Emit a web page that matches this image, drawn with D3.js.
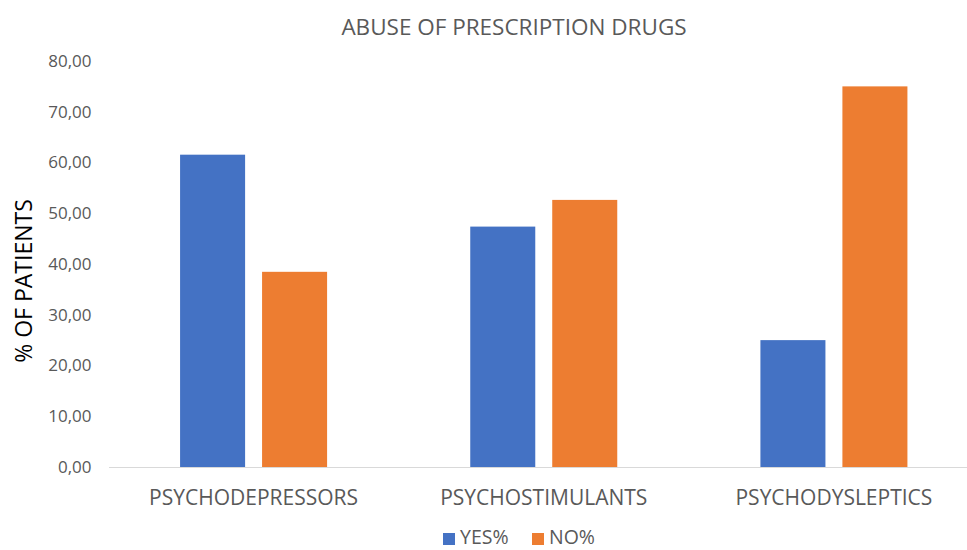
<!DOCTYPE html>
<html>
<head>
<meta charset="utf-8">
<script src="https://cdn.jsdelivr.net/npm/d3@7"></script>
<style>
  html, body { margin: 0; padding: 0; background: #fff; }
  svg { display: block; font-family: "Open Sans", "Liberation Sans", sans-serif; }
</style>
</head>
<body>
<svg id="chart" width="967" height="550"></svg>
<script>
// Drug categories and the share of patients (%) answering yes / no
const categories = ["PSYCHODEPRESSORS", "PSYCHOSTIMULANTS", "PSYCHODYSLEPTICS"];
const seriesNames = ["YES%", "NO%"];
const yesValues = [61.54, 47.37, 25.00];
const noValues = [38.46, 52.63, 75.00];
const yTicks = [0, 10, 20, 30, 40, 50, 60, 70, 80];
const colors = ["#4472C4", "#ED7D31"];

const svg = d3.select("#chart");
const width = 967, height = 550;
const margin = { left: 108.5, right: -12, top: 61, bottom: 83 };

const x = d3.scaleBand()
  .domain(categories)
  .range([margin.left, width - margin.right])
  .paddingInner(0)
  .paddingOuter(0);

const x1 = d3.scaleBand()
  .domain(seriesNames)
  .range([0, x.bandwidth()])
  .paddingInner(0.207)
  .paddingOuter(0.873);

const y = d3.scaleLinear()
  .domain([0, 80])
  .range([height - margin.bottom, margin.top]);

const textColor = "#595959";

// Title
svg.append("text")
  .attr("x", 514)
  .attr("y", 35)
  .attr("text-anchor", "middle")
  .attr("fill", textColor)
  .attr("font-size", 22.5)
  .text("ABUSE OF PRESCRIPTION DRUGS");

// Y axis (labels only, no line)
const yAxis = d3.axisLeft(y)
  .tickValues(yTicks)
  .tickSize(0)
  .tickPadding(0)
  .tickFormat(d => d3.format(".2f")(d).replace(".", ","));

const gy = svg.append("g")
  .attr("transform", `translate(${91.5},0)`)
  .call(yAxis);
gy.select(".domain").remove();
gy.selectAll("text")
  .attr("fill", textColor)
  .attr("font-size", 17)
  .attr("font-family", "Open Sans, sans-serif");

// Y axis title
svg.append("text")
  .attr("transform", `translate(32,${281}) rotate(-90)`)
  .attr("text-anchor", "middle")
  .attr("fill", "#000")
  .attr("font-size", 23)
  .text("% OF PATIENTS");

// Bars
const rows = categories.map((c, i) => ({ cat: c, vals: [yesValues[i], noValues[i]] }));
const groups = svg.append("g").selectAll("g")
  .data(rows)
  .join("g")
  .attr("transform", d => `translate(${x(d.cat)},0)`);

groups.selectAll("rect")
  .data(d => d.vals.map((v, j) => ({ name: seriesNames[j], v, j })))
  .join("rect")
  .attr("x", d => x1(d.name))
  .attr("width", x1.bandwidth())
  .attr("y", d => y(d.v))
  .attr("height", d => y(0) - y(d.v))
  .attr("fill", d => colors[d.j]);

// X axis baseline and category labels
const xAxis = d3.axisBottom(x).tickSize(0).tickPadding(0);
const gx = svg.append("g")
  .attr("transform", `translate(0,${y(0)})`)
  .call(xAxis);
gx.select(".domain").attr("stroke", "#D9D9D9").attr("stroke-width", 1);
gx.selectAll("text")
  .attr("y", 38)
  .attr("dy", 0)
  .attr("fill", textColor)
  .attr("font-size", 21)
  .attr("font-family", "Open Sans, sans-serif");

// Legend
const legend = svg.append("g");
const legendItems = [
  { name: seriesNames[0], color: colors[0], x: 443 },
  { name: seriesNames[1], color: colors[1], x: 532 }
];
legendItems.forEach(it => {
  legend.append("rect")
    .attr("x", it.x).attr("y", 533)
    .attr("width", 12).attr("height", 12)
    .attr("fill", it.color);
  legend.append("text")
    .attr("x", it.x + 17).attr("y", 544)
    .attr("fill", textColor)
    .attr("font-size", 19.5)
    .text(it.name);
});
</script>
</body>
</html>
